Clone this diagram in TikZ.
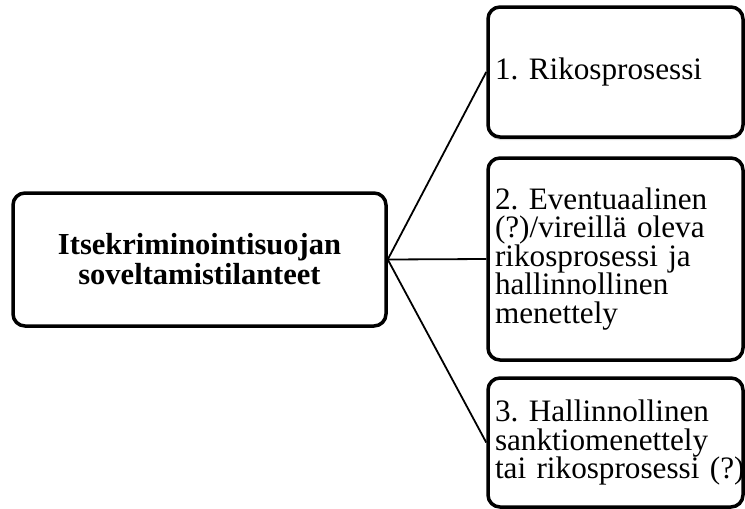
\documentclass[tikz,border=0pt]{standalone}
\usepackage{fontspec}
\setmainfont{Liberation Serif}
\usetikzlibrary{shadows}
\begin{document}
\begin{tikzpicture}[x=1pt,y=-1pt,
  mainbox/.style={draw=black, line width=3.5pt, rounded corners=12pt, fill=white,
    minimum width=373pt, minimum height=133pt, align=center,
    font=\fontsize{30.5}{30}\selectfont\bfseries},
  itembox/.style={draw=black, line width=3.5pt, rounded corners=12pt, fill=white,
    minimum width=255pt, text width=241pt, inner xsep=7pt, align=left,
    font=\fontsize{31.2}{28.5}\selectfont\frenchspacing},
  conn/.style={draw=black, line width=1.8pt}]
\useasboundingbox (0,0) rectangle (745,509);
\node[mainbox] (main) at (199.5,259.5) {Itsekriminointisuojan\\soveltamistilanteet};
\node[itembox, minimum height=130pt, drop shadow={shadow xshift=0pt, shadow yshift=-3pt, opacity=0.3}] (b1) at (615.5,72) {1. Rikosprosessi};
\node[itembox, minimum height=202pt] (b2) at (615.5,259) {2. Eventuaalinen\\(?)/vireillä oleva\\rikosprosessi ja\\hallinnollinen\\menettely};
\node[itembox, minimum height=129pt] (b3) at (615.5,442.5) {3. Hallinnollinen\\sanktiomenettely\\\mbox{tai rikosprosessi (?)}};
\draw[conn] (main.east) -- (b1.west);
\draw[conn] (main.east) -- (b2.west);
\draw[conn] (main.east) -- (b3.west);
\end{tikzpicture}
\end{document}
